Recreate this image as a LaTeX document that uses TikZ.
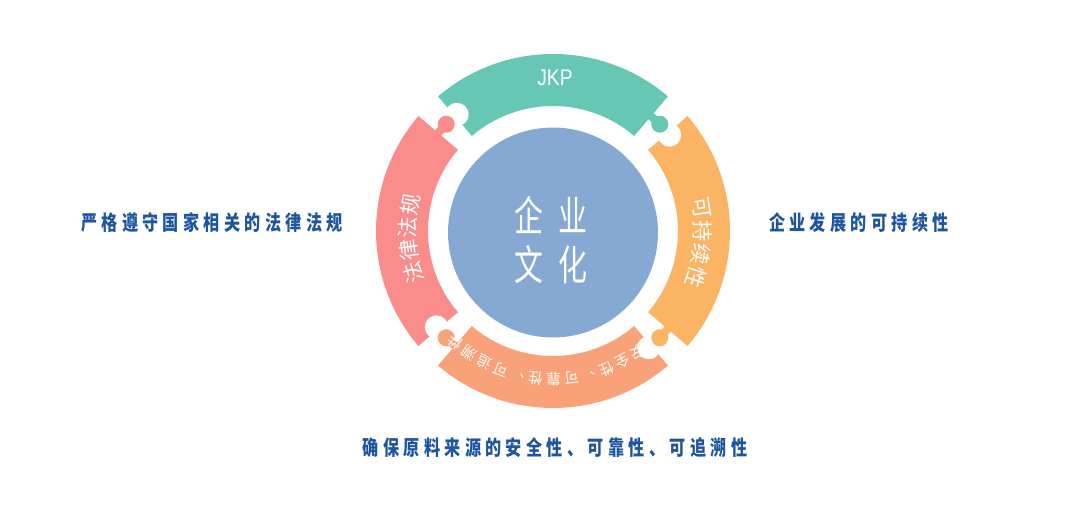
\documentclass[tikz,border=0pt]{standalone}
\usepackage{fontspec}
\usepackage{xcolor}
\usepackage{tikz}
\newfontfamily\cjk{Noto Sans CJK SC}
\newfontfamily\cjkwide[LetterSpace=27]{Noto Sans CJK SC}
\newfontfamily\latinsans{Liberation Sans}
\definecolor{jkpgreen}{HTML}{66C8B4}
\definecolor{susorange}{HTML}{FBB464}
\definecolor{srcsalmon}{HTML}{F9A178}
\definecolor{lawpink}{HTML}{FA8C8C}
\definecolor{coreblue}{HTML}{85A9D2}
\definecolor{labelblue}{HTML}{1E55A0}
\tikzset{ring text/.style={text=white,font=\cjk\fontsize{16}{16}\selectfont,inner sep=0pt},small ring text/.style={ring text,font=\cjk\fontsize{11}{11}\selectfont},side label/.style={text=labelblue,font=\cjkwide\bfseries\fontsize{15.5}{16}\selectfont,xscale=0.78,inner sep=0pt},core text/.style={text=white,font=\cjk\fontsize{31}{36.75}\selectfont,align=center,xscale=0.7,inner sep=0pt}}

\begin{document}
\begin{tikzpicture}[x=0.75pt,y=0.75pt]
			\def\ro{177}
			\def\ri{125}
			\def\rmid{151}
			\def\rc{105}
			\useasboundingbox (-553,-294) rectangle (518,231);
			\coordinate (O) at (0,0);

			% ring pieces with a notch at the end
			\foreach \j/\c in {45/jkpgreen,135/lawpink,225/srcsalmon,315/susorange}{
				\fill[\c] (\j+4.5:\ro) arc[start angle=\j+4.5,end angle=\j+85.5,radius=\ro]
					-- (\j+85.5:\ri) arc[start angle=\j+85.5,end angle=\j+4.5,radius=\ri] -- cycle;
				\fill[white] (\j+84.5:\rmid) circle[radius=11.7];
			}
			% tabs
			\foreach \j/\c in {45/jkpgreen,135/lawpink,225/srcsalmon,315/susorange}{
				\fill[\c] (\j:\rmid) circle[radius=8.5];
				\fill[\c] (\j:\rmid-4) -- (\j+5:\rmid-4) -- (\j+5:\rmid+4) -- (\j:\rmid+4) -- cycle;
			}
			\fill[coreblue] (0,-1.5) circle[radius=\rc];
			\node[core text] (core) at (-2,-9) {企\hspace{15.5pt}业\\文\hspace{15.5pt}化};

			\node[text=white,font=\latinsans\fontsize{17}{17}\selectfont,xscale=0.85] (jkp) at (2,153) {JKP};
			\foreach \ch [count=\i from 0] in {可,持,续,性}
				\node[ring text,rotate={-81-9*\i}] (sus\i) at ({9-9*\i}:150) {\ch};
			\foreach \ch [count=\i from 0] in {法,律,法,规}
				\node[ring text,rotate={106.5-9*\i}] (law\i) at ({196.5-9*\i}:145) {\ch};
			\foreach \ch [count=\i from 0] in {安,全,性,、,可,靠,性,、,可,追,溯,性}
				\node[small ring text,rotate={-145-6.95*\i}] (src\i) at ({-55-6.95*\i}:148) {\ch};

			\node[side label] (lawlabel) at (-341,8) {严格遵守国家相关的法律法规};
			\node[side label] (suslabel) at (306,8) {企业发展的可持续性};
			\node[side label] (srclabel) at (2,-217) {确保原料来源的安全性、可靠性、可追溯性};
		\end{tikzpicture}
\end{document}
